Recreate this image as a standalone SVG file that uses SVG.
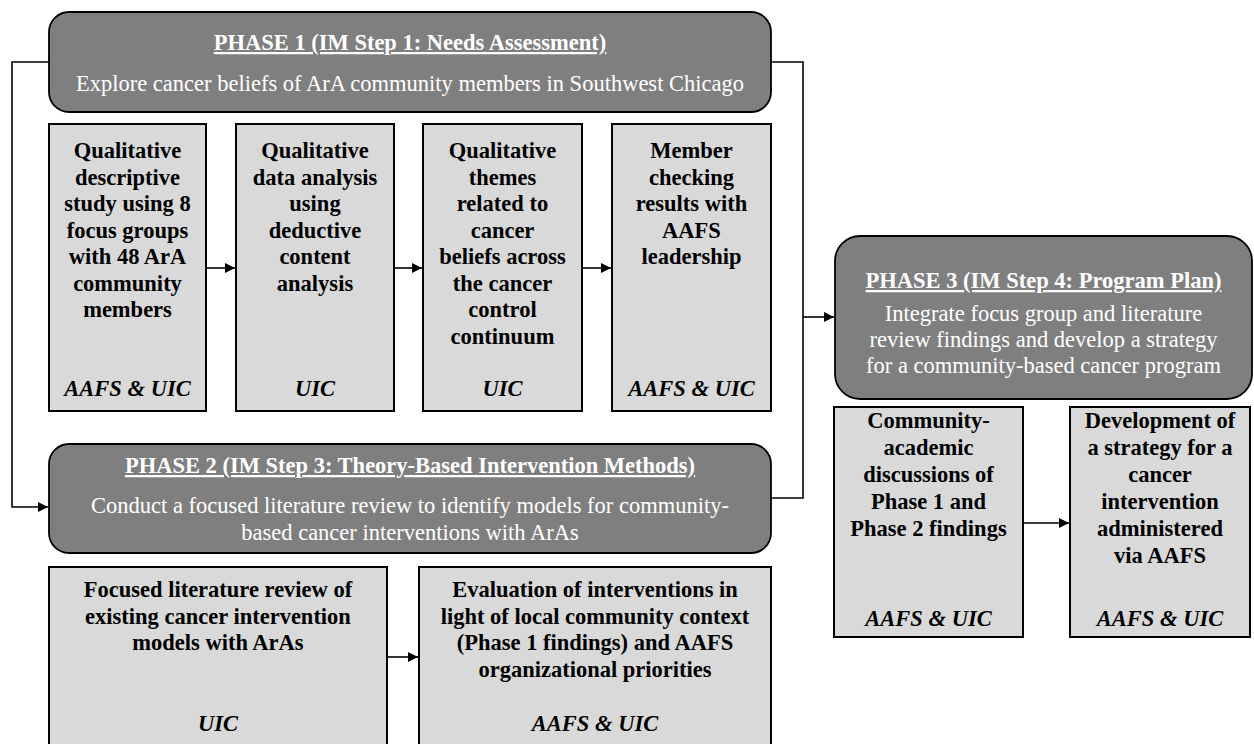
<svg xmlns="http://www.w3.org/2000/svg" width="1254" height="744" viewBox="0 0 1254 744">
<defs>
<style>
.hdr{fill:#7f7f7f;stroke:#000;stroke-width:1.8}
.box{fill:#d9d9d9;stroke:#000;stroke-width:2}
.ht{font-family:'Liberation Serif','Times New Roman',serif;font-size:22.5px;fill:#fff;text-anchor:middle}
.htt{font-weight:bold;text-decoration:underline}
.bt{font-family:'Liberation Serif','Times New Roman',serif;font-size:22.5px;font-weight:bold;fill:#000;text-anchor:middle}
.it{font-style:italic}
.con{fill:none;stroke:#000;stroke-width:1.6}
</style>
<marker id="ah" markerWidth="10" markerHeight="10" refX="10" refY="5" orient="auto" markerUnits="userSpaceOnUse">
<path d="M0,0 L10,5 L0,10 Z" fill="#000"/>
</marker>
</defs>
<rect width="1254" height="744" fill="#fff"/>

<g id="connectors">
<path class="con" d="M49,62 H12 V507 H48" marker-end="url(#ah)"/>
<path class="con" d="M771,62 H803 V498 H771"/>
<path class="con" d="M803,317 H834" marker-end="url(#ah)"/>
<path class="con" d="M206,268 H235" marker-end="url(#ah)"/>
<path class="con" d="M394,268 H422" marker-end="url(#ah)"/>
<path class="con" d="M582,268 H611" marker-end="url(#ah)"/>
<path class="con" d="M387,657 H418" marker-end="url(#ah)"/>
<path class="con" d="M1023,523 H1069" marker-end="url(#ah)"/>
</g>

<g id="phase1">
<rect class="hdr" x="49" y="12" width="722" height="100" rx="20"/>
<text class="ht htt" x="410" y="50">PHASE 1 (IM Step 1: Needs Assessment)</text>
<text class="ht" x="410" y="91">Explore cancer beliefs of ArA community members in Southwest Chicago</text>
</g>

<g id="p1box1">
<rect class="box" x="49" y="124" width="157" height="287"/>
<text class="bt" x="127.5" y="158">Qualitative</text>
<text class="bt" x="127.5" y="184.5">descriptive</text>
<text class="bt" x="127.5" y="211">study using 8</text>
<text class="bt" x="127.5" y="237.5">focus groups</text>
<text class="bt" x="127.5" y="264">with 48 ArA</text>
<text class="bt" x="127.5" y="290.5">community</text>
<text class="bt" x="127.5" y="317">members</text>
<text class="bt it" x="127.5" y="396">AAFS &amp; UIC</text>
</g>

<g id="p1box2">
<rect class="box" x="236" y="124" width="158" height="287"/>
<text class="bt" x="315" y="158">Qualitative</text>
<text class="bt" x="315" y="184.5">data analysis</text>
<text class="bt" x="315" y="211">using</text>
<text class="bt" x="315" y="237.5">deductive</text>
<text class="bt" x="315" y="264">content</text>
<text class="bt" x="315" y="290.5">analysis</text>
<text class="bt it" x="315" y="396">UIC</text>
</g>

<g id="p1box3">
<rect class="box" x="423" y="124" width="159" height="287"/>
<text class="bt" x="502.5" y="158">Qualitative</text>
<text class="bt" x="502.5" y="184.5">themes</text>
<text class="bt" x="502.5" y="211">related to</text>
<text class="bt" x="502.5" y="237.5">cancer</text>
<text class="bt" x="502.5" y="264">beliefs across</text>
<text class="bt" x="502.5" y="290.5">the cancer</text>
<text class="bt" x="502.5" y="317">control</text>
<text class="bt" x="502.5" y="343.5">continuum</text>
<text class="bt it" x="502.5" y="396">UIC</text>
</g>

<g id="p1box4">
<rect class="box" x="612" y="124" width="159" height="287"/>
<text class="bt" x="691.5" y="158">Member</text>
<text class="bt" x="691.5" y="184.5">checking</text>
<text class="bt" x="691.5" y="211">results with</text>
<text class="bt" x="691.5" y="237.5">AAFS</text>
<text class="bt" x="691.5" y="264">leadership</text>
<text class="bt it" x="691.5" y="396">AAFS &amp; UIC</text>
</g>

<g id="phase2">
<rect class="hdr" x="49" y="444" width="722" height="109" rx="20"/>
<text class="ht htt" x="410" y="473">PHASE 2 (IM Step 3: Theory-Based Intervention Methods)</text>
<text class="ht" x="410" y="513">Conduct a focused literature review to identify models for community-</text>
<text class="ht" x="410" y="540">based cancer interventions with ArAs</text>
</g>

<g id="p2box1">
<rect class="box" x="49" y="567" width="338" height="190"/>
<text class="bt" x="218" y="597">Focused literature review of</text>
<text class="bt" x="218" y="623.5">existing cancer intervention</text>
<text class="bt" x="218" y="650">models with ArAs</text>
<text class="bt it" x="218" y="731">UIC</text>
</g>

<g id="p2box2">
<rect class="box" x="419" y="567" width="352" height="190"/>
<text class="bt" x="595" y="597">Evaluation of interventions in</text>
<text class="bt" x="595" y="623.5">light of local community context</text>
<text class="bt" x="595" y="650">(Phase 1 findings) and AAFS</text>
<text class="bt" x="595" y="676.5">organizational priorities</text>
<text class="bt it" x="595" y="731">AAFS &amp; UIC</text>
</g>

<g id="phase3">
<rect class="hdr" x="835" y="236" width="417" height="163" rx="25"/>
<text class="ht htt" x="1043.5" y="288">PHASE 3 (IM Step 4: Program Plan)</text>
<text class="ht" x="1043.5" y="321">Integrate focus group and literature</text>
<text class="ht" x="1043.5" y="347">review findings and develop a strategy</text>
<text class="ht" x="1043.5" y="373">for a community-based cancer program</text>
</g>

<g id="p3box1">
<rect class="box" x="834" y="407" width="189" height="230"/>
<text class="bt" x="928.5" y="428">Community-</text>
<text class="bt" x="928.5" y="455">academic</text>
<text class="bt" x="928.5" y="482">discussions of</text>
<text class="bt" x="928.5" y="509">Phase 1 and</text>
<text class="bt" x="928.5" y="536">Phase 2 findings</text>
<text class="bt it" x="928.5" y="626">AAFS &amp; UIC</text>
</g>

<g id="p3box2">
<rect class="box" x="1070" y="407" width="180" height="230"/>
<text class="bt" x="1160" y="428">Development of</text>
<text class="bt" x="1160" y="455">a strategy for a</text>
<text class="bt" x="1160" y="482">cancer</text>
<text class="bt" x="1160" y="509">intervention</text>
<text class="bt" x="1160" y="536">administered</text>
<text class="bt" x="1160" y="563">via AAFS</text>
<text class="bt it" x="1160" y="626">AAFS &amp; UIC</text>
</g>
</svg>
